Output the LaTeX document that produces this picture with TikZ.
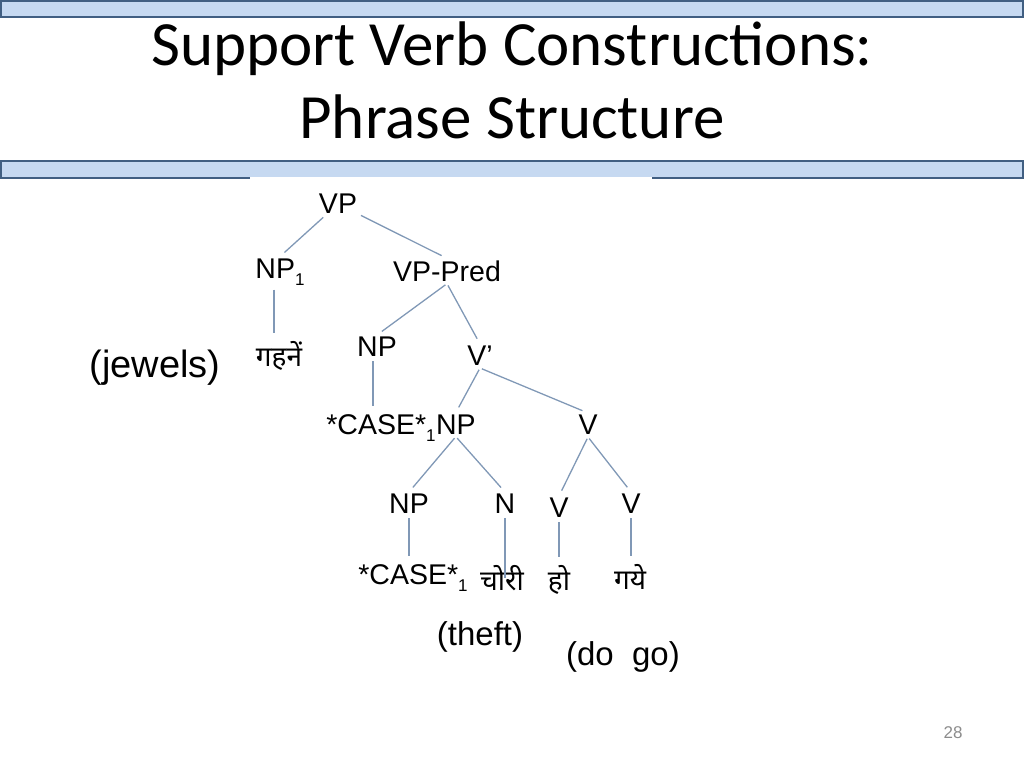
\documentclass[tikz,border=0pt]{standalone}
\usepackage{fontspec}
\setmainfont{Liberation Sans}
\newfontfamily\titlefont{Carlito}
\newfontfamily\devfont[Script=Devanagari]{Noto Sans}
\usetikzlibrary{positioning}
\definecolor{barfill}{RGB}{198,217,241}
\definecolor{bardraw}{RGB}{65,95,130}
\definecolor{branch}{RGB}{128,152,182}
\definecolor{pagegray}{RGB}{140,140,140}
\newcommand{\lowidx}[1]{\raisebox{-7pt}{\fontsize{17}{17}\selectfont #1}}

\begin{document}
\begin{tikzpicture}[
  x=1pt, y=-1pt,
  cat/.style={inner sep=2pt, font=\fontsize{28.5}{30}\selectfont},
  word/.style={inner sep=2pt, font=\devfont\fontsize{28}{30}\selectfont},
  gloss/.style={inner sep=0pt, font=\fontsize{33}{36}\selectfont},
  bar/.style={draw=bardraw, fill=barfill, line width=1.5pt},
  every edge/.style={draw=branch, line width=1.3pt, shorten <=2pt, shorten >=6pt}
]
\useasboundingbox (0,0) rectangle (1024,768);
% header bars
\draw[bar] (1,1) rectangle (1023,17);
\draw[bar] (1,161) rectangle (1023,178);
\fill[white] (250,177) rectangle (652,181);
\node[anchor=base, font=\titlefont\fontsize{63}{72}\selectfont] (title1) at (512,65) {Support Verb Constructions:};
\node[anchor=base, font=\titlefont\fontsize{63}{72}\selectfont] (title2) at (512,138) {Phrase Structure};

% tree
\node[cat] (vp)     at (338,204) {VP};
\node[cat] (np1)    at (280,272) {NP\lowidx{1}};
\node[cat] (vppred) at (447,271) {VP-Pred};
\node[word] (gahne) at (279,356) {गहनें};
\node[cat] (np2)    at (377,347) {NP};
\node[cat] (vbar)   at (480,356) {V’};
\node[cat] (case1)  at (381,428) {*CASE*\lowidx{1}};
\node[cat, anchor=base west] (np3) at ([xshift=-4pt]case1.base east) {NP};
\node[cat] (vmid)   at (588,425) {V};
\node[cat] (np4)    at (409,504) {NP};
\node[cat] (nn)     at (505,504) {N};
\node[cat] (vlo1)   at (559,508) {V};
\node[cat] (vlo2)   at (631,504) {V};
\node[cat] (case2)  at (413,578) {*CASE*\lowidx{1}};
\node[word] (chori) at (502,578) {चोरी};
\node[word] (ho)    at (559,580) {हो};
\node[word] (gaye)  at (630,577) {गये};

\draw (vp) edge (np1.north) edge (vppred.north);
\draw ([xshift=-6pt]np1.south) edge ([xshift=-6pt]np1.south |- gahne.north);
\draw (vppred.south) edge (np2.north) edge (vbar.north);
\draw ([xshift=-4pt]np2.south) edge ([xshift=-4pt]np2.south |- case1.north);
\draw (vbar.south) edge (np3.north) edge (vmid.north);
\draw (np3.south) edge (np4.north) edge (nn.north);
\draw (vmid.south) edge (vlo1.north) edge (vlo2.north);
\draw (np4.south) edge (np4.south |- case2.north);
\draw (nn.south) edge[shorten >=0pt] (nn.south |- chori.center);
\draw (vlo1.south) edge (vlo1.south |- ho.north);
\draw (vlo2.south) edge (vlo2.south |- gaye.north);

% glosses
\node[gloss, font=\fontsize{38}{40}\selectfont] (jewels) at (155,368) {(jewels)};
\node[gloss] (theft) at (480,637) {(theft)};
\node[gloss] (dogo)  at (623,657) {(do\ \ go)};

\node[font=\fontsize{17}{20}\selectfont, text=pagegray] (pagenum) at (953,733) {28};
\end{tikzpicture}
\end{document}
